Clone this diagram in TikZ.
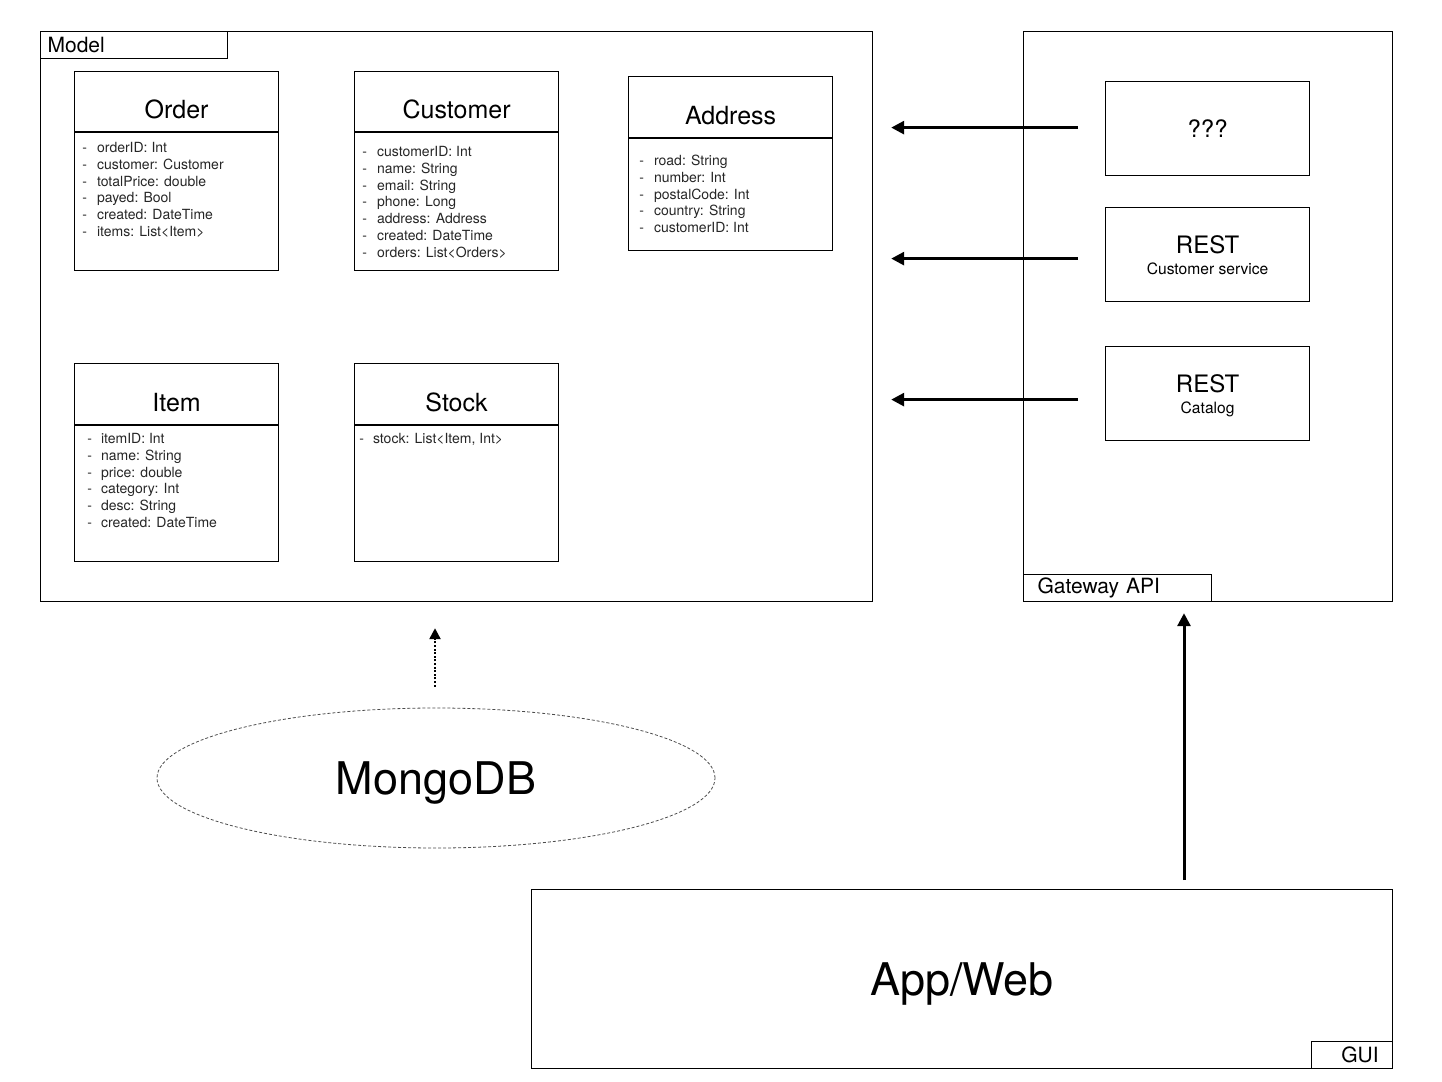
\documentclass[tikz,border=0pt]{standalone}
\usepackage{fontspec}
\setmainfont{TeX Gyre Heros}
\usetikzlibrary{positioning,shapes.geometric,arrows.meta}

\begin{document}
\begin{tikzpicture}[x=0.5pt, y=-0.5pt,
    frame/.style={draw, line width=0.6pt, anchor=north west, inner sep=0pt},
    tab/.style={draw, line width=0.6pt, anchor=north west, minimum height=13.5pt, inner ysep=0pt, font=\fontsize{10.5}{12}\selectfont},
    classbox/.style={draw, line width=0.6pt, anchor=north west, minimum width=102pt, inner sep=0pt},
    classname/.style={anchor=base, inner sep=0pt, font=\fontsize{12.5}{14}\selectfont},
    attrs/.style={anchor=base west, inner sep=0pt, text=black!85, font=\fontsize{7}{8.4}\selectfont},
    service/.style={draw, line width=0.6pt, anchor=north west, minimum width=102pt, minimum height=47pt, align=center, text depth=0pt, font=\fontsize{12}{10.5}\selectfont},
    call/.style={line width=1.5pt, -{Triangle[length=6.5pt, width=6.5pt]}}
  ]
  \useasboundingbox (0,0) rectangle (1442,1082);

  \node[frame, minimum width=416pt, minimum height=285pt] (model) at (40,31) {};
  \node[tab, minimum width=93.5pt, text width=86.5pt, inner xsep=3.5pt, align=left] (modeltab) at (40,31) {Model};

  \node[classbox, minimum height=99.5pt] (order) at (74,71) {};
  \node[classname] (ordername) at ([yshift=-23.5pt]order.north) {Order};
  \coordinate (orderhead) at (74,132);
  \draw[line width=0.6pt] (orderhead) -- (orderhead -| order.east);
  \node[attrs] (orderattrs) at ([xshift=4pt, yshift=-10.25pt]orderhead)
  {\begin{tabular}[t]{@{}l@{\hspace{5pt}}l@{}}
    - & orderID: Int\\
    - & customer: Customer\\
    - & totalPrice: double\\
    - & payed: Bool\\
    - & created: DateTime\\
    - & items: List\textless Item\textgreater
  \end{tabular}};

  \node[classbox, minimum height=99.5pt] (customer) at (354,71) {};
  \node[classname] (customername) at ([yshift=-23.5pt]customer.north) {Customer};
  \coordinate (customerhead) at (354,132);
  \draw[line width=0.6pt] (customerhead) -- (customerhead -| customer.east);
  \node[attrs] (customerattrs) at ([xshift=4pt, yshift=-12.25pt]customerhead)
  {\begin{tabular}[t]{@{}l@{\hspace{5pt}}l@{}}
    - & customerID: Int\\
    - & name: String\\
    - & email: String\\
    - & phone: Long\\
    - & address: Address\\
    - & created: DateTime\\
    - & orders: List\textless Orders\textgreater
  \end{tabular}};

  \node[classbox, minimum height=87pt] (address) at (628,76) {};
  \node[classname] (addressname) at ([yshift=-24pt]address.north) {Address};
  \coordinate (addresshead) at (628,138);
  \draw[line width=0.6pt] (addresshead) -- (addresshead -| address.east);
  \node[attrs] (addressattrs) at ([xshift=5.5pt, yshift=-13.75pt]addresshead)
  {\begin{tabular}[t]{@{}l@{\hspace{5pt}}l@{}}
    - & road: String\\
    - & number: Int\\
    - & postalCode: Int\\
    - & country: String\\
    - & customerID: Int
  \end{tabular}};

  \node[classbox, minimum height=99pt] (item) at (74,363) {};
  \node[classname] (itemname) at ([yshift=-24pt]item.north) {Item};
  \coordinate (itemhead) at (74,425);
  \draw[line width=0.6pt] (itemhead) -- (itemhead -| item.east);
  \node[attrs] (itemattrs) at ([xshift=6.5pt, yshift=-9.25pt]itemhead)
  {\begin{tabular}[t]{@{}l@{\hspace{4.5pt}}l@{}}
    - & itemID: Int\\
    - & name: String\\
    - & price: double\\
    - & category: Int\\
    - & desc: String\\
    - & created: DateTime
  \end{tabular}};

  \node[classbox, minimum height=99pt] (stock) at (354,363) {};
  \node[classname] (stockname) at ([yshift=-24pt]stock.north) {Stock};
  \coordinate (stockhead) at (354,425);
  \draw[line width=0.6pt] (stockhead) -- (stockhead -| stock.east);
  \node[attrs] (stockattrs) at ([xshift=2.5pt, yshift=-9.25pt]stockhead)
  {\begin{tabular}[t]{@{}l@{\hspace{4.5pt}}l@{}}
    - & stock: List\textless Item, Int\textgreater
  \end{tabular}};

  \node[frame, minimum width=184.5pt, minimum height=285pt] (gateway) at (1023,31) {};
  \node[tab, minimum width=94pt, text width=80pt, inner xsep=7pt, align=left] (gatewaytab) at (1023,574) {Gateway API};

  \node[service] (unknown) at (1105,81) {???};
  \node[service, text depth=-2pt] (restcustomer) at (1105,207) {REST\\{\fontsize{7.8}{9}\selectfont Customer service}};
  \node[service, text depth=-2pt] (restcatalog) at (1105,346) {REST\\{\fontsize{7.8}{9}\selectfont Catalog}};

  \draw[call, shorten <=13.5pt, shorten >=9pt] ([yshift=0.5pt]unknown.west) -- ([yshift=0.5pt]unknown.west -| model.east);
  \draw[call, shorten <=13.5pt, shorten >=9pt] ([yshift=-2pt]restcustomer.west) -- ([yshift=-2pt]restcustomer.west -| model.east);
  \draw[call, shorten <=13.5pt, shorten >=9pt] ([yshift=-3pt]restcatalog.west) -- ([yshift=-3pt]restcatalog.west -| model.east);

  \node[ellipse, draw=black!70, line width=0.4pt, dash pattern=on 1.5pt off 1pt, minimum width=279pt, minimum height=70pt, inner sep=0pt, text depth=0pt, font=\fontsize{22.5}{26}\selectfont] (mongo) at (436,778) {MongoDB};
  \draw[line width=1.2pt, dash pattern=on 1pt off 0.8pt, -{Triangle[length=5.5pt, width=5.5pt]}, shorten <=10.5pt, shorten >=13pt] ([xshift=-0.5pt]mongo.north) -- ([xshift=-0.5pt]mongo.north |- model.south);

  \node[frame, minimum width=430.5pt, minimum height=89.5pt, text depth=0pt, font=\fontsize{22.5}{26}\selectfont] (app) at (531,889) {App/Web};
  \node[tab, minimum width=40.5pt, text width=26.5pt, inner xsep=7pt, align=right] (guitab) at (1311,1041) {GUI};

  \coordinate (appout) at (1184,889);
  \draw[call, shorten <=4.5pt, shorten >=5.5pt] (appout) -- (appout |- gateway.south);
\end{tikzpicture}
\end{document}
